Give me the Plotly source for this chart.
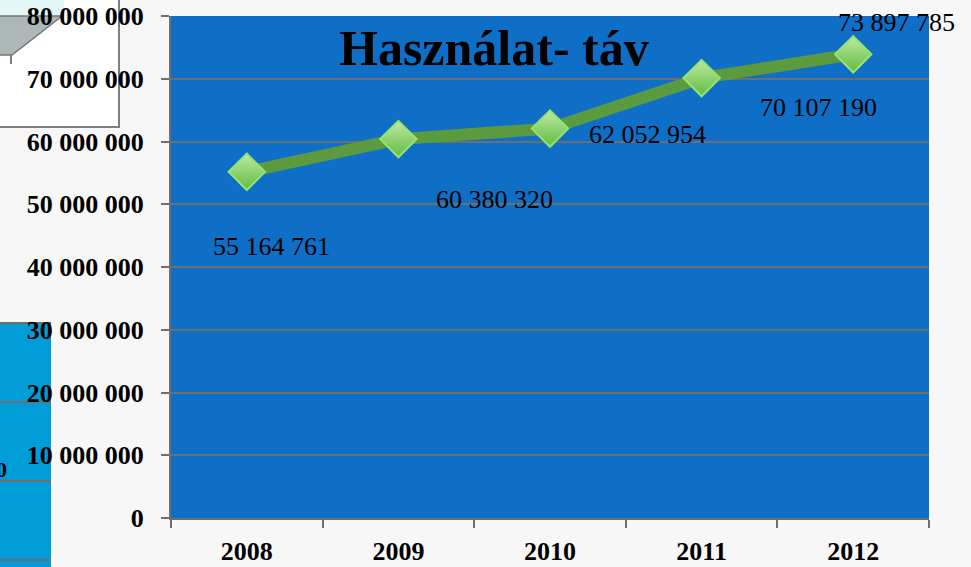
import plotly.graph_objects as go

years = ["2008", "2009", "2010", "2011", "2012"]
values = [55164761, 60380320, 62052954, 70107190, 73897785]
y_ticks = [0, 10000000, 20000000, 30000000, 40000000, 50000000, 60000000, 70000000, 80000000]
title_text = "Használat- táv"
# label offsets (pixels) relative to each point
label_dx = [25, 96, 97, 117, 43]
label_dy = [-75, -60, -6, -29, 32]

PL, PR, PT, PB = 171, 929, 16, 518
def px(p):
    return (p - PL) / (PR - PL)
def py(p):
    return (PB - p) / (PB - PT)

xpos = list(range(len(years)))
boundaries = [i - 0.5 for i in range(len(years) + 1)]

fig = go.Figure()
fig.add_trace(go.Scatter(
    x=xpos, y=values, mode="lines+markers",
    line=dict(color="#5b9a3e", width=12),
    marker=dict(symbol="diamond", size=28, color="#bdeaa2",
                gradient=dict(type="vertical", color="#62bb40"),
                line=dict(color="#95e472", width=2)),
    hoverinfo="skip", showlegend=False,
))

annotations = []
for xi, v, dx, dy in zip(xpos, values, label_dx, label_dy):
    annotations.append(dict(
        x=xi, y=v, xref="x", yref="y", text=f"{v:,}".replace(",", " "),
        showarrow=False, xshift=dx, yshift=dy,
        font=dict(family="Liberation Serif", size=26, color="black"),
    ))
annotations.append(dict(
    x=px(494), y=py(48), xref="paper", yref="paper", text=title_text,
    showarrow=False, xanchor="center", yanchor="middle",
    font=dict(family="Liberation Serif", size=50, color="black", weight="bold"),
))
annotations.append(dict(
    x=px(9), y=py(469), xref="paper", yref="paper", text="0",
    showarrow=False, xanchor="right", yanchor="middle",
    font=dict(family="Liberation Serif", size=22, color="black", weight="bold"),
))

gray = "#6e6e6e"
shapes = [
    # top-left fragment box
    dict(type="rect", xref="paper", yref="paper", x0=px(-5), x1=px(119), y0=py(-5), y1=py(127),
         fillcolor="white", line=dict(color="#7f7f7f", width=2), layer="below"),
    dict(type="rect", xref="paper", yref="paper", x0=px(-5), x1=px(64), y0=py(-5), y1=py(16),
         fillcolor="#e3f6f7", line=dict(width=0), layer="below"),
    dict(type="path", xref="paper", yref="paper",
         path=f"M {px(-5)},{py(16)} L {px(62)},{py(16)} L {px(12)},{py(55)} L {px(-5)},{py(55)} Z",
         fillcolor="#aeb7b7", line=dict(color="#6f7a7a", width=1.5), layer="below"),
    dict(type="line", xref="paper", yref="paper", x0=px(11), x1=px(11), y0=py(55), y1=py(64),
         line=dict(color="#7f7f7f", width=2), layer="below"),
    # bottom-left fragment box
    dict(type="rect", xref="paper", yref="paper", x0=px(-5), x1=px(51), y0=py(323), y1=py(575),
         fillcolor="#009dd9", line=dict(width=0), layer="below"),
]
for yy in [323, 402, 481, 560]:
    shapes.append(dict(type="line", xref="paper", yref="paper", x0=px(-5), x1=px(51),
                       y0=py(yy), y1=py(yy), line=dict(color=gray, width=2), layer="below"))

ytickfont = dict(family="Liberation Serif", size=26, color="black", weight="bold")
xtickfont = dict(family="Liberation Serif", size=26, color="black", weight="bold")
fig.update_layout(
    width=971, height=567,
    margin=dict(l=PL, r=971 - PR, t=PT, b=567 - PB, autoexpand=False),
    paper_bgcolor="#f7f7f7", plot_bgcolor="#0f6fc6",
    separators=". ",
    annotations=annotations, shapes=shapes,
    xaxis=dict(range=[-0.5, len(years) - 0.5], tickvals=xpos, ticktext=years, ticks="",
               tickangle=0, showline=True, linecolor=gray, linewidth=2, showgrid=False,
               zeroline=False, tickfont=xtickfont, ticklabelstandoff=9, automargin=False,
               minor=dict(tickvals=boundaries, ticks="outside", ticklen=8, tickcolor=gray,
                          tickwidth=2, showgrid=False)),
    yaxis=dict(range=[0, 80000000], tickvals=y_ticks, tickformat=",d", ticks="outside",
               ticklen=8, tickcolor=gray, tickwidth=2, showline=True, linecolor=gray,
               linewidth=2, showgrid=True, gridcolor=gray, gridwidth=2, zeroline=False,
               tickfont=ytickfont, ticklabelstandoff=12, automargin=False),
)
fig.write_html("out.html", config={"displayModeBar": False},
               post_script="document.body.style.margin='0';")
